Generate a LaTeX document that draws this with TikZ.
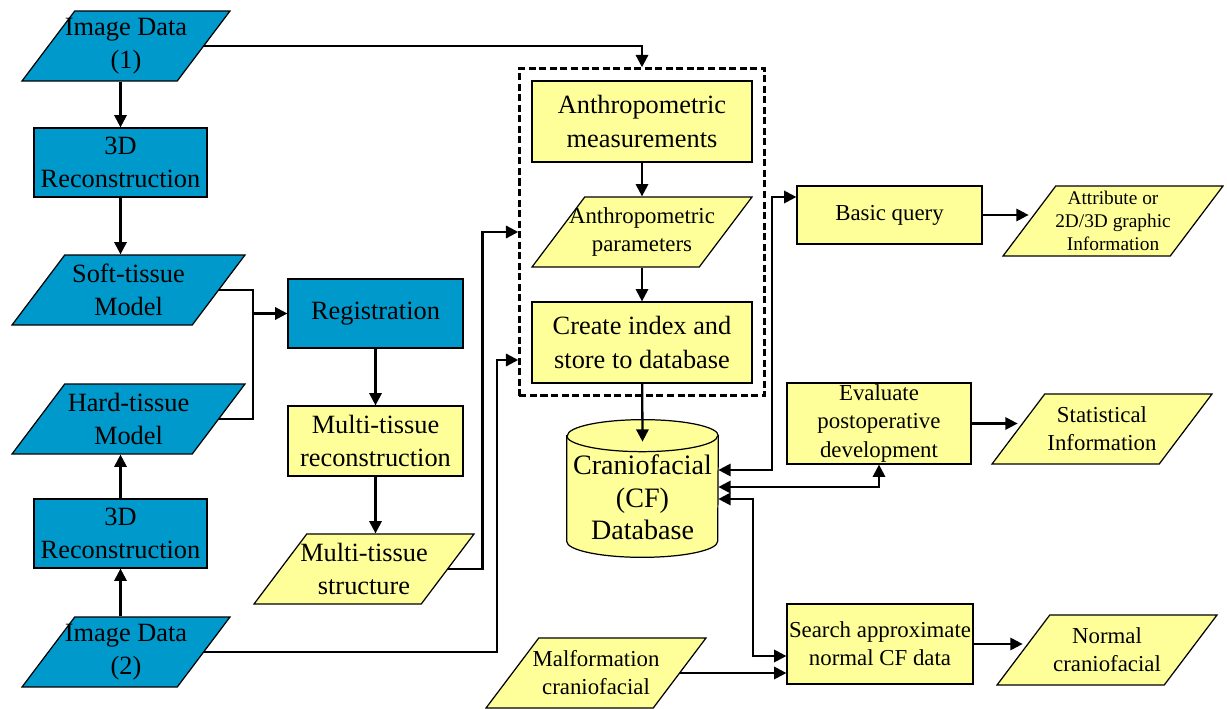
\documentclass[tikz,border=0pt]{standalone}
\usepackage{fontspec}
\setmainfont{Liberation Serif}
\usetikzlibrary{shapes.geometric,arrows.meta,fit,calc,backgrounds}
\definecolor{cfblue}{RGB}{0,153,204}
\definecolor{cfyellow}{RGB}{255,255,153}
\tikzset{
  bigtxt/.style={font=\fontsize{15}{18.8}\selectfont, align=center},
  midtxt/.style={font=\fontsize{13}{16}\selectfont, align=center},
  smalltxt/.style={font=\fontsize{11}{13}\selectfont, align=center},
  dbtxt/.style={font=\fontsize{16}{18.5}\selectfont, align=center},
  procbox/.style={draw, line width=0.7pt, rectangle, inner sep=1pt},
  para/.style={draw, line width=0.7pt, trapezium, trapezium left angle=53,
    trapezium right angle=127, trapezium stretches body,
    text height=1.4cm, text depth=0pt, minimum width=4.4cm, inner sep=0pt},
  line/.style={line width=1.3pt},
  arr/.style={line, -{Triangle[length=7pt,width=7pt]}},
  darr/.style={line, {Triangle[length=7pt,width=7pt]}-{Triangle[length=7pt,width=7pt]}},
}
\begin{document}
\begin{tikzpicture}[x=0.02cm, y=-0.02cm]
\useasboundingbox (0,0) rectangle (1227,709);

% image data and reconstruction
\node[para, fill=cfblue, minimum width=4.16cm, label={[bigtxt]center:Image Data\\(1)}] (img1) at (126,46) {};
\node[procbox, bigtxt, fill=cfblue, minimum width=3.46cm, minimum height=1.38cm] (rec1) at (120.5,162.5) {3D\\Reconstruction};
\node[para, fill=cfblue, minimum width=4.66cm, label={[bigtxt]center:Soft-tissue\\Model}] (soft) at (128.5,290) {};
\node[para, fill=cfblue, minimum width=4.66cm, label={[bigtxt]center:Hard-tissue\\Model}] (hard) at (128.5,419) {};
\node[procbox, bigtxt, fill=cfblue, minimum width=3.46cm, minimum height=1.38cm] (rec2) at (120.5,533.5) {3D\\Reconstruction};
\node[para, fill=cfblue, minimum width=4.16cm, label={[bigtxt]center:Image Data\\(2)}] (img2) at (126,652) {};

% registration
\node[procbox, bigtxt, fill=cfblue, minimum width=3.5cm, minimum height=1.38cm] (reg) at (375.5,313.5) {Registration};
\node[procbox, bigtxt, fill=cfyellow, minimum width=3.5cm, minimum height=1.4cm] (mrec) at (375.5,441) {Multi-tissue\\reconstruction};
\node[para, fill=cfyellow, label={[bigtxt]center:Multi-tissue\\structure}] (mstruct) at (364,569) {};

% database
\node[procbox, bigtxt, fill=cfyellow, minimum width=4.4cm, minimum height=1.62cm] (meas) at (642,121.5) {Anthropometric\\measurements};
\node[para, fill=cfyellow, label={[midtxt]center:Anthropometric\\parameters}] (param) at (642,232) {};
\node[procbox, bigtxt, fill=cfyellow, minimum width=4.4cm, minimum height=1.62cm] (cindex) at (642,342.5) {Create index and\\store to database};
\node[draw, line width=1.3pt, dash pattern=on 4pt off 2pt, inner sep=0.24cm, fit=(meas)(cindex)] (store) {};
\node[minimum width=3.02cm, minimum height=2.74cm, inner sep=0pt, label={[dbtxt, yshift=-5pt]center:Craniofacial\\(CF)\\Database}] (db) at (642.5,488.5) {};
\begin{scope}[on background layer]
\draw[line width=0.7pt, fill=cfyellow] ($(db.north west)+(0,16)$) -- ($(db.south west)+(0,-16)$)
  arc[start angle=180, end angle=360, x radius=1.51cm, y radius=0.32cm]
  -- ($(db.north east)+(0,16)$)
  arc[start angle=0, end angle=180, x radius=1.51cm, y radius=0.32cm] -- cycle;
\draw[line width=0.7pt] ($(db.north west)+(0,16)$) arc[start angle=180, end angle=360, x radius=1.51cm, y radius=0.32cm];
\end{scope}

% queries
\node[procbox, midtxt, fill=cfyellow, minimum width=3.7cm, minimum height=1.16cm] (bq) at (889.5,215) {Basic query};
\node[para, fill=cfyellow, label={[smalltxt]center:Attribute or\\2D/3D graphic\\Information}] (attr) at (1113,221) {};
\node[procbox, midtxt, fill=cfyellow, minimum width=3.68cm, minimum height=1.62cm] (eval) at (879,423.5) {Evaluate\\postoperative\\development};
\node[para, fill=cfyellow, label={[midtxt]center:Statistical\\Information}] (stat) at (1102,429) {};
\node[procbox, midtxt, fill=cfyellow, minimum width=3.72cm, minimum height=1.6cm] (search) at (880,644) {Search approximate\\normal CF data};
\node[para, fill=cfyellow, label={[midtxt]center:Normal\\craniofacial}] (normal) at (1107,650) {};
\node[para, fill=cfyellow, label={[midtxt]center:Malformation\\craniofacial}] (malf) at (596,673) {};

% connectors
\draw[arr] (img1.south -| rec1) -- (rec1);
\draw[arr] (rec1) -- (rec1 |- soft.north);
\draw[arr] (img2.north -| rec2) -- (rec2);
\draw[arr] (rec2) -- (rec2 |- hard.south);
\coordinate (jn) at (253,313.5);
\draw[line] (soft.east) -| (jn) |- (hard.east);
\draw[arr] (jn) -- (reg);
\draw[arr] (reg) -- (mrec);
\draw[arr] (mrec) -- (mrec |- mstruct.north);
\draw[arr] (mstruct.east) -- ++(34,0) |- (store.west |- param);
\draw[arr] (img2.east) -| (497,360) -- (store.west |- 497,360);
\draw[arr] (img1.east) -| (store.north);
\draw[arr] (meas) -- (param);
\draw[arr] (param) -- (cindex);
\draw[arr] (cindex) -- ($(db.north)+(0,22)$);
\draw[darr] (db.east |- 0,470) -| (772,197) -- (bq.west |- 0,197);
\draw[darr] (db.east |- 0,487) -| (eval.south);
\draw[darr] (db.east |- 0,499) -| (753,656) -- (search.west |- 0,656);
\draw[arr] (malf.east) -- (search.west |- malf.east);
\draw[arr] (bq.east) -- (bq.east -| attr.west);
\draw[arr] (eval.east) -- (eval.east -| stat.west);
\draw[arr] (search.east) -- (search.east -| normal.west);
\end{tikzpicture}
\end{document}
